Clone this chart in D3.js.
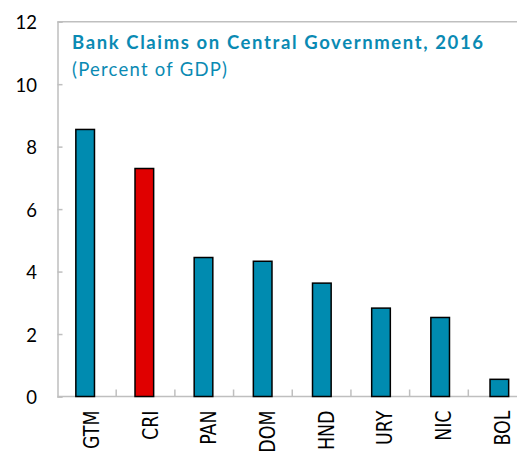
<!DOCTYPE html>
<html>
<head>
<meta charset="utf-8">
<script src="https://cdn.jsdelivr.net/npm/d3@7"></script>
<style>
  body { margin: 0; background: #fff; overflow: hidden; }
  svg { display: block; }
</style>
</head>
<body>
<div id="chart"></div>
<script>
// data
var countries = ["GTM", "CRI", "PAN", "DOM", "HND", "URY", "NIC", "BOL"];
var claims = [8.55, 7.3, 4.45, 4.33, 3.63, 2.83, 2.53, 0.55];
var highlight = ["CRI"];
var yTicks = [0, 2, 4, 6, 8, 10, 12];

var width = 517, height = 453;
var plotLeft = 57.5, plotRight = 527, plotTop = 21.7, plotBottom = 396.5;

var svg = d3.select("#chart").append("svg")
    .attr("width", width)
    .attr("height", height);

var band = d3.scaleBand().domain(countries).range([plotLeft, plotRight]);
var x = d3.scaleBand().domain(countries).range([plotLeft, plotRight]).paddingInner(0.685).paddingOuter(0.31);
var y = d3.scaleLinear().domain([0, 12]).range([plotBottom, plotTop]);

// frame: top line
svg.append("line")
    .attr("x1", plotLeft).attr("x2", width)
    .attr("y1", y(12)).attr("y2", y(12))
    .attr("stroke", "#bfbfbf").attr("stroke-width", 1.5);

// y axis
var yAxis = svg.append("g")
    .attr("transform", "translate(" + plotLeft + ",0)")
    .call(d3.axisRight(y).tickValues(yTicks).tickSize(5).tickFormat(""));
yAxis.select(".domain").attr("stroke", "#bfbfbf").attr("stroke-width", 1.5);
yAxis.selectAll(".tick line").attr("stroke", "#bfbfbf").attr("stroke-width", 1.5);

svg.selectAll(".ylab")
    .data(yTicks).enter()
    .append("text")
    .attr("class", "ylab")
    .attr("x", 37)
    .attr("y", function (d) { return y(d) + 1; })
    .attr("dy", "0.35em")
    .attr("text-anchor", "end")
    .attr("font-family", "Lato, 'Open Sans', sans-serif")
    .attr("font-size", 18.5)
    .attr("fill", "#000")
    .text(function (d) { return d; });

// x axis
var xAxis = svg.append("g")
    .attr("transform", "translate(0," + plotBottom + ")");
xAxis.append("line")
    .attr("x1", plotLeft).attr("x2", width)
    .attr("stroke", "#bfbfbf").attr("stroke-width", 1.5);
xAxis.selectAll(".xt")
    .data(countries.slice(1)).enter()
    .append("line")
    .attr("class", "xt")
    .attr("x1", function (d) { return band(d); })
    .attr("x2", function (d) { return band(d); })
    .attr("y1", 0).attr("y2", -7)
    .attr("stroke", "#bfbfbf").attr("stroke-width", 1.5);

// bars
svg.selectAll(".bar")
    .data(countries).enter()
    .append("rect")
    .attr("class", "bar")
    .attr("x", function (d) { return x(d); })
    .attr("width", x.bandwidth())
    .attr("y", function (d, i) { return y(claims[i]); })
    .attr("height", function (d, i) { return y(0) - y(claims[i]); })
    .attr("fill", function (d) { return highlight.indexOf(d) >= 0 ? "#e00000" : "#008bb0"; })
    .attr("stroke", "#000")
    .attr("stroke-width", 1.5);

// category labels (rotated, narrow)
svg.selectAll(".xlab")
    .data(countries).enter()
    .append("text")
    .attr("class", "xlab")
    .attr("transform", function (d) {
        return "translate(" + (band(d) + band.bandwidth() / 2 + 12) + "," + (plotBottom + 14) + ") rotate(-90) scale(0.83,1)";
    })
    .attr("text-anchor", "end")
    .attr("font-family", "'DejaVu Sans', sans-serif")
    .attr("font-size", 21)
    .attr("fill", "#000")
    .text(function (d) { return d; });

// title
svg.append("text")
    .attr("x", 72).attr("y", 49.3)
    .attr("font-family", "Lato, 'Open Sans', sans-serif")
    .attr("font-weight", "bold")
    .attr("font-size", 18.5)
    .attr("textLength", 411)
    .attr("lengthAdjust", "spacing")
    .attr("fill", "#0a8ab3")
    .text("Bank Claims on Central Government, 2016");
svg.append("text")
    .attr("x", 72).attr("y", 75.5)
    .attr("font-family", "Lato, 'Open Sans', sans-serif")
    .attr("font-size", 18.5)
    .attr("textLength", 155)
    .attr("lengthAdjust", "spacing")
    .attr("fill", "#0a8ab3")
    .text("(Percent of GDP)");
</script>
</body>
</html>
